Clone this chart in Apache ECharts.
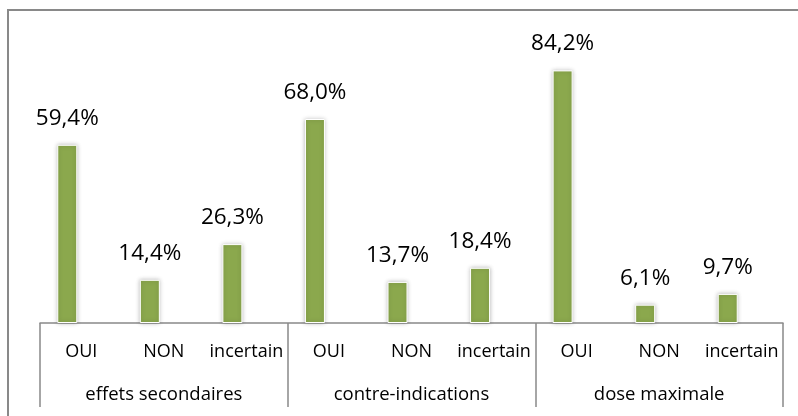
<!DOCTYPE html>
<html><head><meta charset="utf-8">
<script src="https://cdn.jsdelivr.net/npm/echarts@6/dist/echarts.min.js"></script>
<style>html,body{margin:0;padding:0;background:#fff}#c{width:798px;height:416px}</style>
</head><body><div id="c"></div>
<script>
const categories = ['OUI','NON','incertain','OUI','NON','incertain','OUI','NON','incertain'];
const groups = ['effets secondaires','contre-indications','dose maximale'];
const values = [59.4, 14.4, 26.3, 68.0, 13.7, 18.4, 84.2, 6.1, 9.7];

const chart = echarts.init(document.getElementById('c'));
const font = 'Open Sans';
chart.setOption({
  animation: false,
  backgroundColor: '#fff',
  grid: {left: 40, right: 15, top: 23, bottom: 93},
  xAxis: [
    {type: 'category', data: categories, position: 'bottom',
     axisLine: {show: true, lineStyle: {color: '#898989', width: 1.5}},
     axisTick: {show: false},
     axisLabel: {interval: 0, color: '#000', fontFamily: font, fontSize: 18, margin: 20}},
    {type: 'category', data: groups, position: 'bottom',
     axisLine: {show: false},
     axisTick: {show: true, interval: 0, length: 84, lineStyle: {color: '#898989', width: 1.5}},
     axisLabel: {interval: 0, color: '#000', fontFamily: font, fontSize: 18.5, margin: 62}}
  ],
  yAxis: {type: 'value', min: 0, max: 100, show: false, splitLine: {show: false}},
  graphic: [{type: 'rect', shape: {x: 8, y: 10, width: 800, height: 420},
    style: {fill: 'none', stroke: '#898989', lineWidth: 2}, z: 100}],
  series: [
    {type: 'bar', xAxisIndex: 0, data: values, barWidth: 20, barGap: '40%',
     itemStyle: {color: '#8BA84D', borderColor: '#fff', borderWidth: 1,
       shadowBlur: 4, shadowColor: 'rgba(0,0,0,0.25)'},
     label: {show: true, position: 'top', distance: 15, color: '#000', fontFamily: font, fontSize: 22.5,
       formatter: p => p.value.toFixed(1).replace('.', ',') + '%'}},
    {type: 'bar', xAxisIndex: 0, data: values.map(() => null), barWidth: 20}
  ]
});
</script></body></html>
